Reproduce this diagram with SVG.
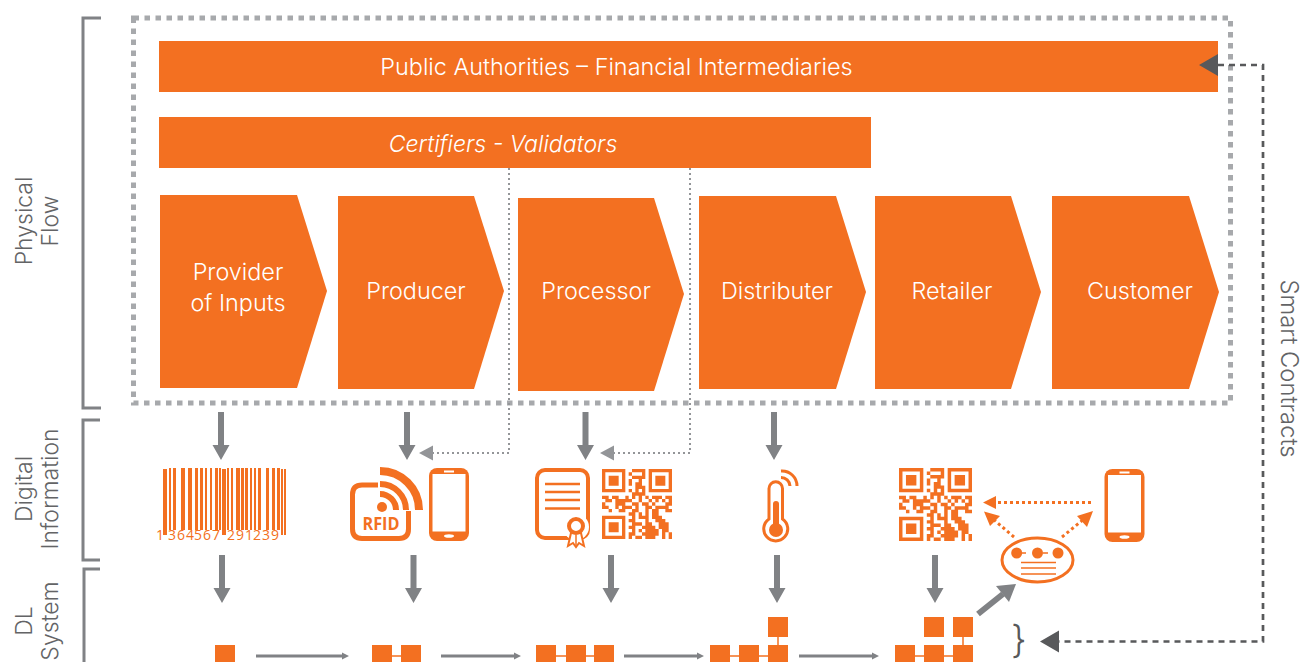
<svg xmlns="http://www.w3.org/2000/svg" width="1302" height="662" viewBox="0 0 1302 662">
<style>
text{font-family:"Inter","Liberation Sans",sans-serif;font-weight:300}
.o{fill:#F37021}
.lab{fill:#fff;font-size:23.4px;text-anchor:middle}
.side{fill:#636466;font-size:23px;text-anchor:middle}
.br{fill:none;stroke:#808285;stroke-width:3}
.arr{fill:#808285}
.thin{stroke:#808285;stroke-width:3;fill:none}
.link{stroke:#F37021;stroke-width:1.5;fill:none}
.ol{fill:none;stroke:#F37021}
.dot{fill:none;stroke:#F37021;stroke-width:3;stroke-dasharray:3 3}
</style>
<defs>
<path id="dn" d="M-3 0h6v33h5.500L0 48-8.500 33H-3z" fill="#808285"/>
<symbol id="qr" viewBox="0 0 21 21">
<path d="M.5 .5h6v6h-6z M14.500 .5h6v6h-6z M.5 14.500h6v6h-6z" fill="none" stroke="#F37021"/>
<path d="M2 2h3v3h-3z M16 2h3v3h-3z M2 16h3v3h-3z" fill="#F37021"/>
<path fill="none" stroke="#F37021" d="M9 .5h4M8 1.500h1M12 1.500h1M9 2.500h4M8 3.500h1M11 3.500h1M8 4.500h1M10 4.500h2M10 5.500h3M8 6.500h1M10 6.500h1M12 6.500h1M9 7.500h4M0 8.500h2M3 8.500h2M7 8.500h1M9 8.500h1M11 8.500h1M13 8.500h1M15 8.500h3M19 8.500h2M1 9.500h2M4 9.500h5M11 9.500h1M14 9.500h1M16 9.500h1M18 9.500h1M20 9.500h1M0 10.500h1M4 10.500h3M9 10.500h2M12 10.500h2M15 10.500h1M19 10.500h2M0 11.500h2M4 11.500h1M6 11.500h3M10 11.500h1M13 11.500h2M16 11.500h4M2 12.500h1M5 12.500h2M9 12.500h2M13 12.500h1M15 12.500h2M19 12.500h2M8 13.500h2M11 13.500h1M13 13.500h1M15 13.500h2M9 14.500h1M11 14.500h3M15 14.500h3M8 15.500h2M13 15.500h1M16 15.500h3M9 16.500h3M13 16.500h2M17 16.500h3M8 17.500h2M12 17.500h4M17 17.500h3M9 18.500h1M11 18.500h1M13 18.500h4M18 18.500h2M8 19.500h2M12 19.500h5M18 19.500h1M20 19.500h1M8 20.500h1M10 20.500h2M13 20.500h3M18 20.500h1M20 20.500h1"/>
</symbol>
<symbol id="phone" viewBox="0 0 40 73">
<rect width="40" height="73" rx="8" fill="#F37021"/>
<rect x="3.500" y="6" width="33" height="57.500" fill="#fff"/>
<rect x="15" y="2.500" width="10" height="2" fill="#fff"/>
<ellipse cx="20" cy="68" rx="5" ry="1.800" fill="#fff"/>
</symbol>
</defs>

<g id="frame"><rect x="133.500" y="18" width="1097" height="385" fill="none" stroke="#A7A9AC" stroke-width="5" stroke-dasharray="5.500 5.500"/></g>

<g id="public-authorities"><rect x="159" y="41" width="1059" height="51" class="o"/><text x="616.500" y="75" class="lab">Public Authorities – Financial Intermediaries</text></g>
<g id="certifiers"><rect x="159" y="117" width="712" height="51" class="o"/><text x="503" y="152" class="lab" style="font-size:23.1px" font-style="italic">Certifiers - Validators</text></g>

<g id="provider"><path class="o" d="M160 195H297L327 291 297 388H160Z"/><text class="lab" x="238" y="280">Provider</text><text class="lab" x="238" y="311">of Inputs</text></g>
<g id="producer"><path class="o" d="M338 196H474L504 291 474 389H338Z"/><text class="lab" x="416" y="299">Producer</text></g>
<g id="processor"><path class="o" d="M518 198H654L684 294 654 391H518Z"/><text class="lab" x="596" y="299">Processor</text></g>
<g id="distributer"><path class="o" d="M699 196H836L866 292 836 389H699Z"/><text class="lab" x="777" y="299">Distributer</text></g>
<g id="retailer"><path class="o" d="M875 196H1011L1041 292 1011 389H875Z"/><text class="lab" x="952" y="299">Retailer</text></g>
<g id="customer"><path class="o" d="M1052 196H1189L1219 292 1189 389H1052Z"/><text class="lab" x="1140" y="299">Customer</text></g>

<g id="labels">
<path class="br" d="M101 18H83V408H101"/>
<path class="br" d="M100 420H83V560H100"/>
<path class="br" d="M100 569H84V662"/>
<text class="side" transform="translate(32 221) rotate(-90)">Physical</text>
<text class="side" transform="translate(58 221) rotate(-90)">Flow</text>
<text class="side" transform="translate(32 489) rotate(-90)">Digital</text>
<text class="side" transform="translate(58 489) rotate(-90)">Information</text>
<text class="side" transform="translate(32 621) rotate(-90)">DL</text>
<text class="side" transform="translate(58 621) rotate(-90)">System</text>
<text class="side" style="font-size:23.8px" transform="translate(1281 368.500) rotate(90)">Smart Contracts</text>
</g>

<g id="barcode" class="o">
<path d="M163 469h4v66h-4zM169 468h2v62h-2zM173 468h3v62h-3zM181 468h4v62h-4zM188 468h4v62h-4zM195 468h3v62h-3zM200 468h3v62h-3zM205 468h2v62h-2zM210 468h2v62h-2zM215 468h3v62h-3zM219 468h2v62h-2zM222 469h4v66h-4zM227 468h2v62h-2zM231 468h2v62h-2zM236 468h4v62h-4zM241 468h3v62h-3zM245 468h3v62h-3zM250 468h2v62h-2zM254 468h2v62h-2zM258 468h3v62h-3zM266 468h3v62h-3zM272 468h3v62h-3zM277 468h3v62h-3zM281 469h2v66h-2zM284 469h2v66h-2z"/>
<text x="156 165 168 177 186 194 203 212 220 227 236 245 253 262 271" y="540" font-size="14" class="o" style="font-family:'Open Sans',sans-serif;font-weight:400">1 364567 291239</text>
</g>

<g id="rfid">
<path class="ol" stroke-width="5" d="M378 485H362Q352.500 485 352.500 494.500V529Q352.500 538.500 362 538.500H399Q408.500 538.500 408.500 529V511"/>
<circle cx="382" cy="507" r="5" class="o"/>
<path class="ol" stroke-width="8" d="M380 471A39 39 0 0 1 419 510"/>
<path class="ol" stroke-width="6" d="M380 484A26 26 0 0 1 406 510"/>
<path class="ol" stroke-width="6" d="M380 494A16 16 0 0 1 396 510"/>
<text x="381" y="530" font-size="17" text-anchor="middle" class="o" style="font-family:'Open Sans',sans-serif;font-weight:700" textLength="37" lengthAdjust="spacingAndGlyphs">RFID</text>
</g>
<use id="phone-1" href="#phone" x="429" y="468" width="40" height="73"/>

<g id="certificate">
<rect x="537" y="470" width="51" height="68" rx="8" class="ol" stroke-width="4"/>
<path class="ol" stroke-width="2.500" d="M545 484H580M545 492H580M545 500H580M545 508.500H580"/>
<circle cx="576" cy="527" r="13" fill="#fff"/>
<path fill="#fff" stroke="#F37021" stroke-width="2" d="M571 533L568 546 573 543 576 547 579 543 584 546 581 533Z"/>
<path class="ol" stroke-width="1.500" d="M576 535V545"/>
<circle cx="576" cy="526" r="7" fill="#fff" stroke="#F37021" stroke-width="4"/>
</g>
<use id="qr-1" href="#qr" x="602" y="469" width="70" height="70"/>

<g id="thermometer">
<path class="ol" stroke-width="3" d="M769 519V488.500A6.500 6.500 0 0 1 782.500 488.500V519A12 12 0 1 1 769 519Z"/>
<path class="o" d="M773 504a3 3 0 0 1 6 0V525H773Z"/>
<circle cx="776" cy="530" r="7" class="o"/>
<path class="ol" stroke-width="3" d="M781 471A15 15 0 0 1 797 486M781 477.500A9 9 0 0 1 790 486"/>
</g>

<use id="qr-2" href="#qr" x="899" y="468" width="73" height="73"/>
<use id="phone-2" href="#phone" x="1104" y="469" width="41" height="73"/>

<g id="contract">
<ellipse cx="1037.500" cy="560" rx="35.500" ry="22" fill="#fff" stroke="#F37021" stroke-width="3"/>
<circle cx="1016.700" cy="553" r="5.500" class="o"/><circle cx="1037.500" cy="553" r="5.500" class="o"/><circle cx="1058" cy="553" r="5.500" class="o"/>
<path class="link" d="M1022 553h4M1043 553h5M1021 562.500H1056M1021 568H1056M1021 574H1056"/>
</g>

<g id="blocks" class="o">
<path d="M215 645h20v20h-20zM372 645h20v20h-20zM401 645h20v20h-20zM536 645h20v20h-20zM566 645h20v20h-20zM594 645h20v20h-20zM710 645h20v20h-20zM739 645h20v20h-20zM768 645h20v20h-20zM768 617h20v20h-20zM895 645h20v20h-20zM924 645h20v20h-20zM953 645h20v20h-20zM924 617h20v20h-20zM953 617h20v20h-20z"/>
<path class="link" d="M392 656h9M556 656h10M586 656h8M730 656h9M759 656h9M778 637v8M915 656h9M944 656h9M963 637v8"/>
</g>

<g id="connectors">
<use href="#dn" x="221" y="412"/><use href="#dn" x="407" y="412"/><use href="#dn" x="585.500" y="412"/><use href="#dn" x="774" y="412"/>
<use href="#dn" x="222" y="555"/><use href="#dn" x="413.500" y="555"/><use href="#dn" x="611" y="555"/><use href="#dn" x="777" y="555"/><use href="#dn" x="935" y="555"/>
<path class="thin" style="stroke-width:6" d="M978 614L1003 594"/>
<path class="arr" d="M1016 584L1009 602 996 586Z"/>
<path class="thin" d="M256 656H344M441 656H516M624 656H699M799 656H874"/>
<path class="arr" d="M342 652.500L349 656 342 659.500ZM514 652.500L521 656 514 659.500ZM697 652.500L704 656 697 659.500ZM872 652.500L879 656 872 659.500Z"/>
<path fill="none" stroke="#939598" stroke-width="2" stroke-dasharray="2 3" d="M509 168V453H433M690 168V453H614"/>
<path fill="#939598" d="M419 453L433 445.500V460.500ZM600 453L614 445.500V460.500Z"/>
<path fill="none" stroke="#58595B" stroke-width="2.700" stroke-dasharray="6 5" d="M1218 65H1263V641.500H1059"/>
<path fill="#58595B" d="M1199 65L1218 54V76ZM1040 641.500L1059 630.500V652.500Z"/>
<path class="dot" d="M1091 502.500H996M1014 537L993 519M1062 537L1084 519"/>
<path class="o" d="M983 502.500L996 496V509ZM984 511.500L1000 516 990 526ZM1093 511L1087 527 1077 516Z"/>
</g>
<text id="brace" x="1011" y="653" font-size="38" fill="#58595B">}</text>
</svg>
